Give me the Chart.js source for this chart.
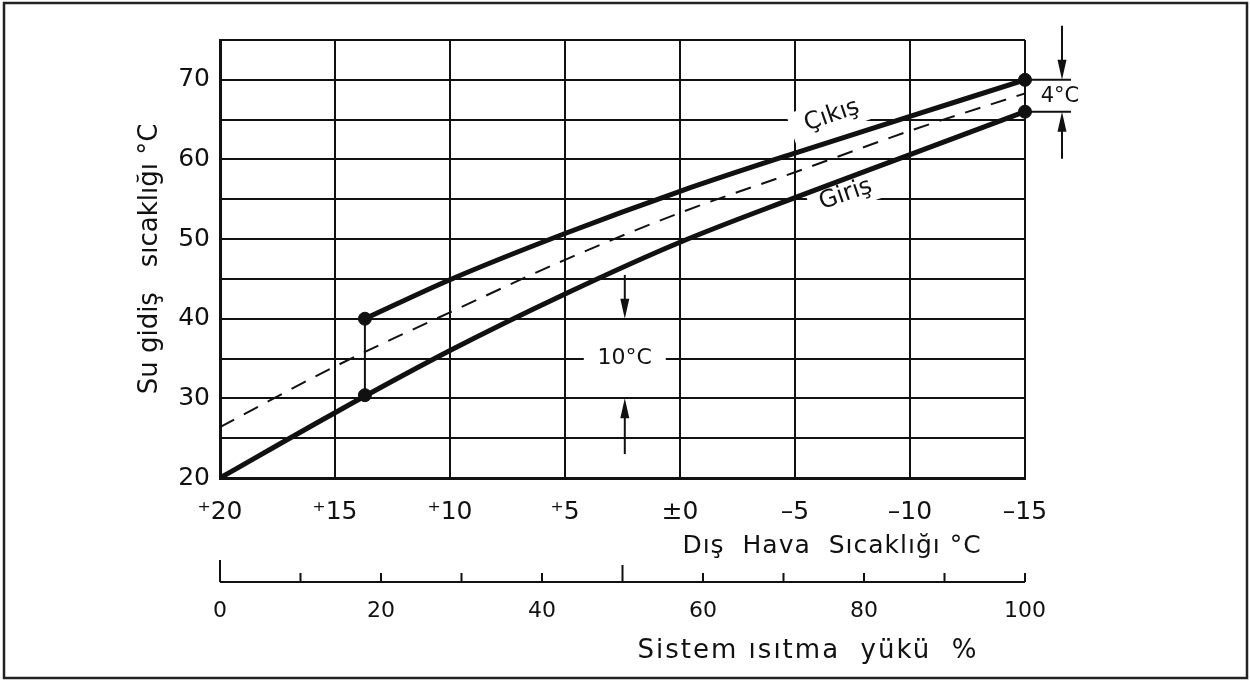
<!DOCTYPE html>
<html>
<head>
<meta charset="utf-8">
<script src="https://cdn.jsdelivr.net/npm/chart.js@4"></script>
<style>
  html, body { margin: 0; padding: 0; background: #fff; }
  #wrap { width: 1250px; height: 681px; }
</style>
</head>
<body>
<div id="wrap"><canvas id="chart" width="1250" height="681"></canvas></div>
<script>
// outdoor temperature axis (reversed, +20 .. -15)
var tempTicks = [20, 15, 10, 5, 0, -5, -10, -15];
var tempTickLabels = ['⁺20', '⁺15', '⁺10', '⁺5', '±0', '–5', '–10', '–15'];
// supply water (Çıkış)
var cikisTemp = [13.7, 10, 5, 0, -5, -10, -15];
var cikisValues = [40, 44.9, 50.7, 56.0, 60.8, 65.4, 70];
// return water (Giriş)
var girisTemp = [20, 15, 10, 5, 0, -5, -10, -15];
var girisValues = [20, 28.2, 36.0, 43.1, 49.6, 55.2, 60.6, 66];
// mean line (dashed)
var ortalamaValues = [26.4, 34, 40.8, 47.4, 53.3, 58.4, 63.6, 68.3];
// end points marked with dots
var markerTemp = [13.7, 13.7, -15, -15];
var markerValues = [40, 30.4, 70, 66];
// system load axis
var loadTicks = [0, 20, 40, 60, 80, 100];

var FONT = 'DejaVu Sans';
var INK = '#111';

function pts(xs, ys) {
  return xs.map(function (x, i) { return { x: x, y: ys[i] }; });
}

function arrow(ctx, x, yFrom, yTo) {
  var dir = yTo > yFrom ? 1 : -1;
  ctx.beginPath();
  ctx.moveTo(x, yFrom);
  ctx.lineTo(x, yTo - dir * 14);
  ctx.stroke();
  ctx.beginPath();
  ctx.moveTo(x, yTo);
  ctx.lineTo(x - 4.5, yTo - dir * 20);
  ctx.lineTo(x + 4.5, yTo - dir * 20);
  ctx.closePath();
  ctx.fill();
}

function boxText(ctx, text, x, y, rot, w, h) {
  ctx.save();
  ctx.translate(x, y);
  ctx.rotate(rot);
  ctx.fillStyle = '#fff';
  ctx.fillRect(-w / 2, -h / 2, w, h);
  ctx.fillStyle = INK;
  ctx.fillText(text, 0, 0);
  ctx.restore();
}

var extras = {
  id: 'extras',
  beforeDatasetsDraw: function (chart) {
    var ctx = chart.ctx, x = chart.scales.x, y = chart.scales.y;
    ctx.save();
    ctx.font = '24px "' + FONT + '"';
    ctx.textAlign = 'center';
    ctx.textBaseline = 'middle';
    boxText(ctx, 'Çıkış', x.getPixelForValue(-6.6), y.getPixelForValue(65.5), -0.33, 86, 32);
    boxText(ctx, 'Giriş', x.getPixelForValue(-7.2), y.getPixelForValue(55.6), -0.33, 76, 30);
    ctx.font = '22px "' + FONT + '"';
    boxText(ctx, '10°C', x.getPixelForValue(2.4), y.getPixelForValue(35), 0, 82, 26);
    ctx.restore();
  },
  afterDraw: function (chart) {
    var ctx = chart.ctx, x = chart.scales.x, y = chart.scales.y, x2 = chart.scales.x2;
    ctx.save();
    // outer frame
    ctx.strokeStyle = '#222';
    ctx.lineWidth = 2.5;
    ctx.strokeRect(4, 3, 1243, 675);

    ctx.strokeStyle = INK;
    ctx.fillStyle = INK;
    ctx.lineWidth = 2;

    // 10°C arrows
    var ax = x.getPixelForValue(2.4);
    arrow(ctx, ax, y.getPixelForValue(45.5), y.getPixelForValue(40));
    arrow(ctx, ax, y.getPixelForValue(23), y.getPixelForValue(30));

    // 4°C marker at the right end
    var r = x.getPixelForValue(-15);
    var yTop = y.getPixelForValue(markerValues[2]);
    var yBot = y.getPixelForValue(markerValues[3]);
    ctx.beginPath();
    ctx.moveTo(r + 6, yTop); ctx.lineTo(r + 46, yTop);
    ctx.moveTo(r + 6, yBot); ctx.lineTo(r + 46, yBot);
    ctx.stroke();
    arrow(ctx, r + 37, yTop - 54, yTop);
    arrow(ctx, r + 37, yBot + 47, yBot);
    ctx.font = '21px "' + FONT + '"';
    ctx.textAlign = 'center';
    ctx.textBaseline = 'middle';
    ctx.fillText('4°C', r + 35, (yTop + yBot) / 2 + 1);

    // x axis title
    ctx.font = '25px "' + FONT + '"';
    ctx.letterSpacing = '1px';
    ctx.fillText('Dış  Hava  Sıcaklığı °C', 832, 546);

    // system load axis: baseline and upward ticks
    var base = x2.top + 14;
    ctx.letterSpacing = '0px';
    ctx.lineWidth = 2;
    ctx.beginPath();
    ctx.moveTo(x2.getPixelForValue(0), base);
    ctx.lineTo(x2.getPixelForValue(100), base);
    for (var v = 0; v <= 100; v += 10) {
      var px = x2.getPixelForValue(v);
      var h = v === 0 ? 22 : (v === 50 ? 17 : 9);
      ctx.moveTo(px, base);
      ctx.lineTo(px, base - h);
    }
    ctx.stroke();
    ctx.font = '26px "' + FONT + '"';
    ctx.letterSpacing = '2px';
    ctx.fillText('Sistem ısıtma  yükü  %', 808, 651);
    ctx.restore();
  }
};

var ctx = document.getElementById('chart').getContext('2d');
new Chart(ctx, {
  type: 'line',
  data: {
    datasets: [
      {
        label: 'Çıkış',
        data: pts(cikisTemp, cikisValues),
        borderColor: INK,
        borderWidth: 5,
        pointRadius: 0,
        cubicInterpolationMode: 'monotone',
        fill: false
      },
      {
        label: 'Giriş',
        data: pts(girisTemp, girisValues),
        borderColor: INK,
        borderWidth: 5,
        pointRadius: 0,
        cubicInterpolationMode: 'monotone',
        fill: false
      },
      {
        label: 'Ortalama',
        data: pts(girisTemp, ortalamaValues),
        borderColor: INK,
        borderWidth: 2,
        borderDash: [16, 11],
        pointRadius: 0,
        cubicInterpolationMode: 'monotone',
        fill: false
      },
      {
        label: 'bağlantı',
        data: pts(markerTemp.slice(0, 2), markerValues.slice(0, 2)),
        borderColor: INK,
        borderWidth: 2,
        pointRadius: 0,
        fill: false
      },
      {
        label: 'noktalar',
        data: pts(markerTemp, markerValues),
        showLine: false,
        pointRadius: 6.5,
        pointBackgroundColor: INK,
        pointBorderColor: INK,
        clip: false
      }
    ]
  },
  options: {
    responsive: false,
    animation: false,
    layout: { padding: { left: 0, right: 225, top: 40, bottom: 0 } },
    plugins: {
      legend: { display: false },
      tooltip: { enabled: false }
    },
    scales: {
      x: {
        type: 'linear',
        position: 'bottom',
        weight: 0,
        reverse: true,
        min: -15,
        max: 20,
        afterFit: function (s) { s.height = 90; },
        grid: { color: INK, lineWidth: 2, drawTicks: false },
        border: { color: INK, width: 3 },
        ticks: {
          stepSize: 5,
          autoSkip: false,
          maxRotation: 0,
          padding: 19,
          color: INK,
          font: { family: FONT, size: 25 },
          callback: function (v) {
            var i = tempTicks.indexOf(v);
            return i < 0 ? '' : tempTickLabels[i];
          }
        }
      },
      x2: {
        type: 'linear',
        position: 'bottom',
        weight: 1,
        min: 0,
        max: 100,
        afterFit: function (s) { s.height = 113; },
        grid: { display: false, drawTicks: false },
        border: { display: false },
        ticks: {
          stepSize: 10,
          autoSkip: false,
          maxRotation: 0,
          padding: 30,
          color: INK,
          font: { family: FONT, size: 22 },
          callback: function (v) { return loadTicks.indexOf(v) < 0 ? '' : String(v); }
        }
      },
      y: {
        min: 20,
        max: 75,
        afterFit: function (s) { s.width = 220; },
        grid: { color: INK, lineWidth: 2, drawTicks: false },
        border: { color: INK, width: 3 },
        ticks: {
          stepSize: 5,
          autoSkip: false,
          padding: 10,
          color: INK,
          font: { family: FONT, size: 25 },
          callback: function (v) { return (v % 10 === 0 && v < 75) ? String(v) : ''; }
        },
        title: {
          display: true,
          text: 'Su gidiş   sıcaklığı °C',
          color: INK,
          font: { family: FONT, size: 26 },
          padding: { top: 135 }
        }
      }
    }
  },
  plugins: [extras]
});
</script>
</body>
</html>
